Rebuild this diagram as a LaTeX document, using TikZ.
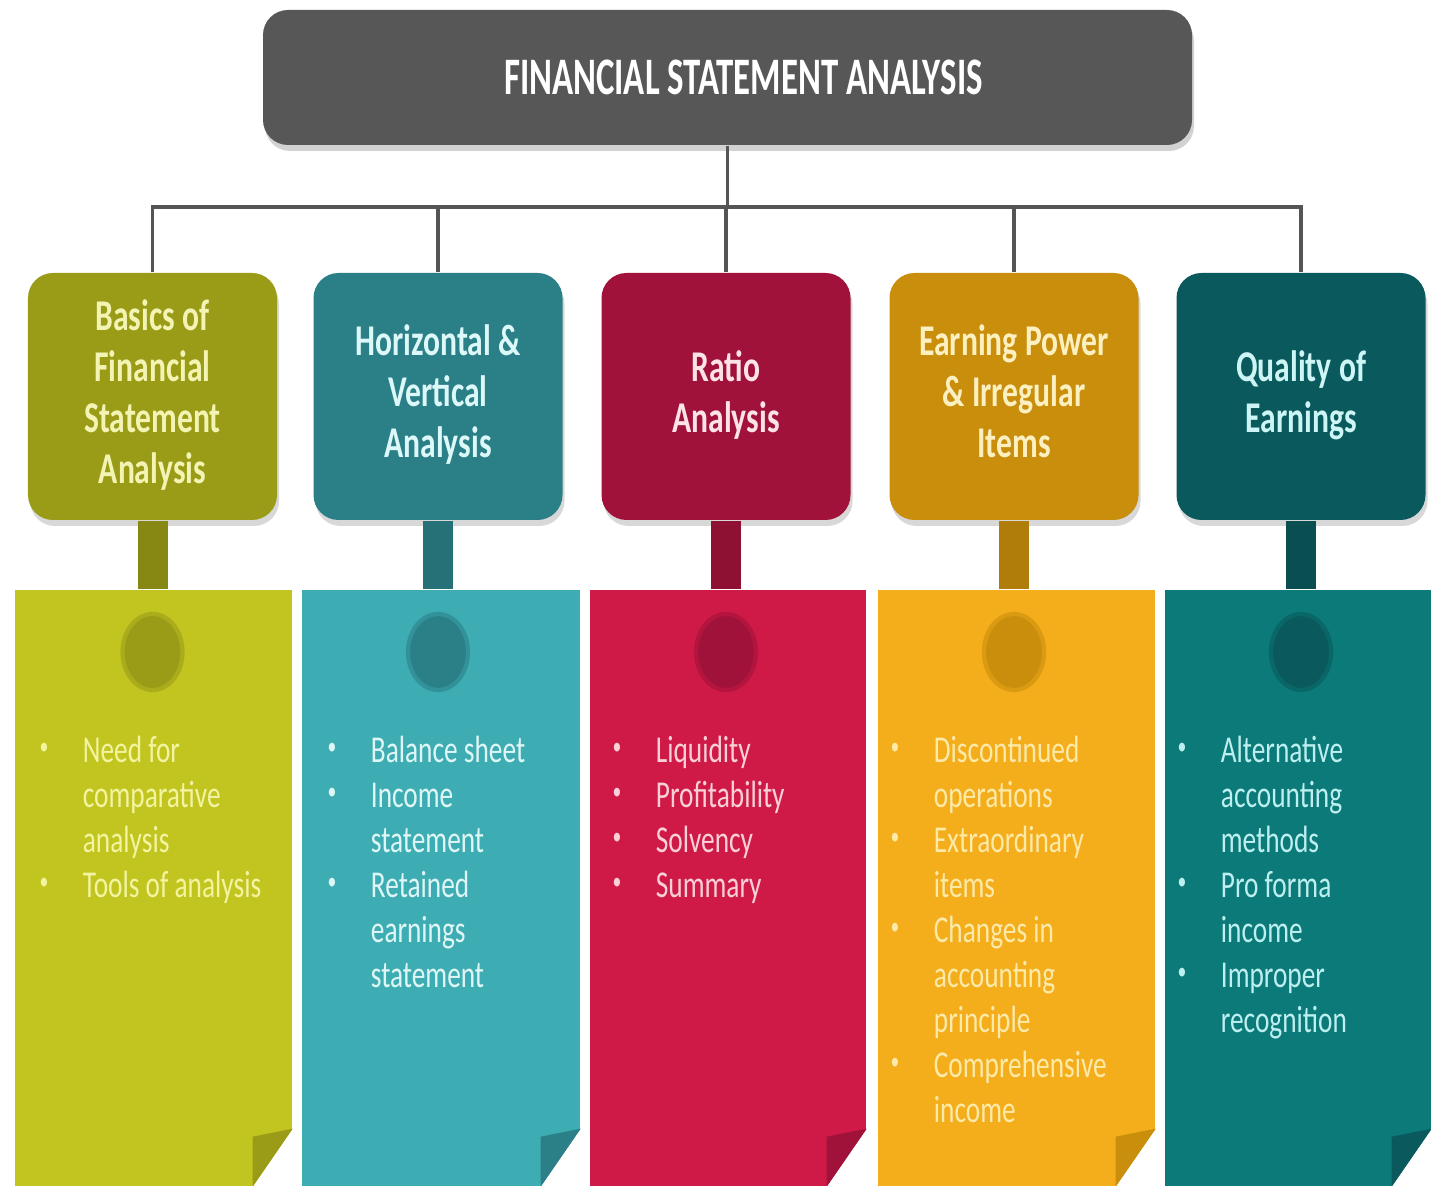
\documentclass[tikz,border=0pt]{standalone}
\usepackage{fontspec}
\setmainfont{Carlito}
\usepackage{graphicx}
\usetikzlibrary{shapes.geometric,shadows}

%% colours of the five columns
\definecolor{titlegray}{HTML}{575757}
\definecolor{linkgray}{HTML}{555555}
\definecolor{head1}{HTML}{9A9B17}
\definecolor{head2}{HTML}{2B7F87}
\definecolor{head3}{HTML}{A1123A}
\definecolor{head4}{HTML}{C98E0C}
\definecolor{head5}{HTML}{0A5A5D}
\definecolor{panel1}{HTML}{C2C520}
\definecolor{panel2}{HTML}{3EADB3}
\definecolor{panel3}{HTML}{CF1A47}
\definecolor{panel4}{HTML}{F4AD1B}
\definecolor{panel5}{HTML}{0B7A78}
\definecolor{htext1}{HTML}{F3F4B4}
\definecolor{htext2}{HTML}{DCF8F8}
\definecolor{htext3}{HTML}{FBE3E8}
\definecolor{htext4}{HTML}{FDF0C0}
\definecolor{htext5}{HTML}{CDF5F5}
\definecolor{ptext1}{HTML}{F2F4A0}
\definecolor{ptext2}{HTML}{DFF6F6}
\definecolor{ptext3}{HTML}{F9D0D8}
\definecolor{ptext4}{HTML}{FDE9A8}
\definecolor{ptext5}{HTML}{BDEFF0}

\newcommand\pbul{\makebox[0.6cm][l]{\raisebox{0.4ex}{\fontsize{7}{7}\selectfont\textbullet}}}
\newcommand\pind{\hspace*{0.6cm}}

\begin{document}
\begin{tikzpicture}
[titledecorate/.style={rounded corners=0.25cm,fill=titlegray,text=white,
   minimum width=9.29cm,minimum height=1.35cm,inner sep=0pt,
   font=\fontsize{15}{18}\selectfont\bfseries,
   drop shadow={shadow xshift=0.02cm,shadow yshift=-0.06cm,opacity=0.35}},%
  headdecorate/.style={rounded corners=0.25cm,minimum width=2.49cm,
   minimum height=2.47cm,inner sep=0pt,
   font=\fontsize{12.5}{14.5}\selectfont\bfseries,
   drop shadow={shadow xshift=0.02cm,shadow yshift=-0.06cm,opacity=0.3}},%
  paneldecorate/.style={rectangle,minimum height=5.96cm,inner sep=0pt},%
  dotdecorate/.style={ellipse,minimum width=0.60cm,minimum height=0.76cm,
   inner sep=0pt,line width=1.2pt},%
  itemdecorate/.style={anchor=north west,inner sep=0pt,
   font=\fontsize{10.8}{12.8}\selectfont},%
  linkdecorate/.style={-,line width=1pt,linkgray}]
\useasboundingbox[fill=white] (0,0) rectangle (14.31,11.86);
%% title
\node (title) at (7.275,11.085) [titledecorate]
  {\scalebox{0.66}[1]{\hspace*{0.48cm}FINANCIAL STATEMENT ANALYSIS}};
\coordinate (hub) at (7.275,9.79);
%% headers
\foreach \n/\x/\hname in {1/1.525/{Basics of\\Financial\\Statement\\Analysis},
  2/4.38/{Horizontal \&\\Vertical\\Analysis}, 3/7.26/{Ratio\\Analysis},
  4/10.14/{Earning Power\\\& Irregular\\Items}, 5/13.01/{Quality of\\Earnings}} {
  \node (head\n) at (\x,7.895) [headdecorate,fill=head\n,text=htext\n]
    {\scalebox{0.72}[1]{\begin{tabular}{@{}c@{}}\hname\end{tabular}}};
}
%% panels with folded corner
\foreach \n/\x/\l/\r in {1/1.525/0.15/2.92, 2/4.38/3.02/5.80,
  3/7.26/5.90/8.66, 4/10.14/8.78/11.55, 5/13.01/11.65/14.31} {
  \node (panel\n) at ({(\l+\r)/2},2.98) [paneldecorate,fill=panel\n,
    minimum width={(\r-\l)*1cm}] {};
  \fill[white] (panel\n.south east) ++(0,0.58) -- ++(-0.40,-0.58) -- ++(0.40,0) -- cycle;
  \fill[head\n] (panel\n.south east) ++(0,0.58) -- ++(-0.40,-0.08) -- ++(0,-0.50) -- cycle;
  \draw[line width=0.30cm,head\n!88!black] (head\n.south) -- (head\n.south |- panel\n.north);
  \node (dot\n) at (\x,5.34) [dotdecorate,fill=head\n,draw=head\n!60!panel\n] {};
}
%% bullet lists
\foreach \n/\t/\items in {1/0.82/{\pbul Need for\\\pind comparative\\\pind analysis\\\pbul Tools of analysis},
  2/3.70/{\pbul Balance sheet\\\pbul Income\\\pind statement\\\pbul Retained\\\pind earnings\\\pind statement},
  3/6.55/{\pbul Liquidity\\\pbul Profitability\\\pbul Solvency\\\pbul Summary},
  4/9.33/{\pbul Discontinued\\\pind operations\\\pbul Extraordinary\\\pind items\\\pbul Changes in\\\pind accounting\\\pind principle\\\pbul Comprehensive\\\pind income},
  5/12.20/{\pbul Alternative\\\pind accounting\\\pind methods\\\pbul Pro forma\\\pind income\\\pbul Improper\\\pind recognition}} {
  \node (items\n) at ({\t-0.43},4.56) [itemdecorate,text=ptext\n]
    {\scalebox{0.72}[1]{\begin{tabular}{@{}l@{}}\items\end{tabular}}};
}
%% edges
\draw[linkdecorate] (title.south) -- (hub);
\foreach \n in {1,...,5} {
  \draw[linkdecorate] (head\n.north) |- (hub);
}
\end{tikzpicture}
\end{document}
